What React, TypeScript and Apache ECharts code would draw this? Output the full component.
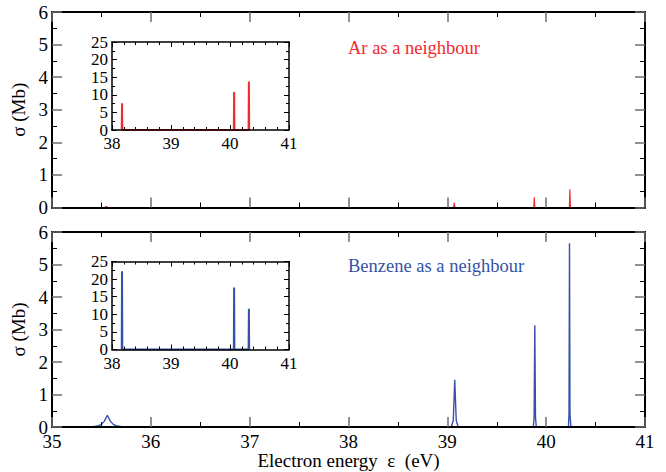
import React, { useEffect, useRef } from "react";
import * as echarts from "echarts";

// ---------- data ----------
const mainXTicks = [35, 36, 37, 38, 39, 40, 41];
const mainYTicks = [0, 1, 2, 3, 4, 5, 6];
const insetXTicks = [38, 39, 40, 41];
const insetYTicks = [0, 5, 10, 15, 20, 25];

// Ar as a neighbour (main panel) [energy eV, sigma Mb]
const arMain: [number, number][] = [
  [35.0, 0], [35.53, 0], [35.55, 0.03], [35.57, 0],
  [39.063, 0], [39.07, 0.14], [39.077, 0],
  [39.875, 0], [39.88, 0.31], [39.885, 0],
  [40.235, 0], [40.24, 0.56], [40.245, 0],
  [41.0, 0],
];

// Benzene as a neighbour (main panel)
const bzMain: [number, number][] = [
  [35.0, 0], [35.4, 0], [35.46, 0.03], [35.5, 0.08], [35.53, 0.18], [35.56, 0.36],
  [35.59, 0.18], [35.62, 0.08], [35.66, 0.03], [35.72, 0],
  [39.04, 0], [39.06, 0.2], [39.075, 1.45], [39.09, 0.2], [39.11, 0],
  [39.87, 0], [39.878, 0.3], [39.885, 3.13], [39.892, 0.3], [39.9, 0],
  [40.225, 0], [40.231, 0.4], [40.236, 5.65], [40.241, 0.4], [40.25, 0],
  [41.0, 0],
];

// insets (stick heights)
const arInset: [number, number][] = [
  [38.165, 0], [38.17, 7.6], [38.175, 0],
  [40.065, 0], [40.07, 10.8], [40.075, 0],
  [40.315, 0], [40.32, 13.8], [40.325, 0],
];
const bzInset: [number, number][] = [
  [38.165, 0], [38.17, 22.2], [38.175, 0],
  [40.065, 0], [40.07, 17.6], [40.075, 0],
  [40.315, 0], [40.32, 11.6], [40.325, 0],
];

const RED = "#f02a2e";
const BLUE = "#3552a8";
const FONT = "Liberation Serif";

function axisPair(
  gridIndex: number,
  ticks: number[],
  isX: boolean,
  showLabels: boolean,
  inset: boolean,
  name?: string
) {
  const min = ticks[0];
  const max = ticks[ticks.length - 1];
  const interval = ticks[1] - ticks[0];
  const common = {
    gridIndex,
    type: "value" as const,
    min,
    max,
    interval,
    z: 5,
    splitLine: { show: false },
    axisLine: { show: true, onZero: false, lineStyle: { color: "#000", width: inset ? 1.5 : 2 } },
    axisTick: {
      show: true,
      inside: true,
      length: inset ? 5 : 10,
      lineStyle: { color: inset ? "#000" : "#6e6e6e", width: inset ? 1 : 1.5 },
    },
    minorTick: {
      show: true,
      splitNumber: inset && isX ? 5 : 2,
      length: inset ? 3 : 5,
      lineStyle: { color: "#000", width: 1 },
    },
  };
  const primary: any = {
    ...common,
    position: isX ? "bottom" : "left",
    axisLabel: {
      show: showLabels,
      showMinLabel: true,
      showMaxLabel: true,
      hideOverlap: false,
      fontFamily: FONT,
      fontSize: inset ? 17 : 19,
      lineHeight: isX ? (inset ? 13 : 16) : inset ? 12 : 12,
      color: "#000",
      margin: isX ? (inset ? 7 : 6) : 4,
    },
  };
  if (name) {
    primary.name = name;
    primary.nameLocation = "middle";
    primary.nameGap = isX ? 18 : 17;
    primary.nameTextStyle = { fontFamily: FONT, fontSize: 19, color: "#000" };
  }
  const mirror: any = {
    ...common,
    position: isX ? "top" : "right",
    axisLabel: { show: false },
  };
  return [primary, mirror];
}

export default function App() {
  const ref = useRef<HTMLDivElement>(null);
  useEffect(() => {
    document.body.style.margin = "0";
    const chart = echarts.init(ref.current!, null, { renderer: "svg" });

    const grids = [
      { left: 52, top: 12, width: 593, height: 195.5 },
      { left: 52, top: 232, width: 593, height: 195 },
      { left: 112, top: 42, width: 177, height: 88 },
      { left: 112, top: 261.5, width: 177, height: 88 },
    ];

    const xAxes = [
      ...axisPair(0, mainXTicks, true, false, false),
      ...axisPair(1, mainXTicks, true, true, false, "Electron energy  ε  (eV)"),
      ...axisPair(2, insetXTicks, true, true, true),
      ...axisPair(3, insetXTicks, true, true, true),
    ];
    const yAxes = [
      ...axisPair(0, mainYTicks, false, true, false, "σ (Mb)"),
      ...axisPair(1, mainYTicks, false, true, false, "σ (Mb)"),
      ...axisPair(2, insetYTicks, false, true, true),
      ...axisPair(3, insetYTicks, false, true, true),
    ];

    const mk = (data: [number, number][], color: string, axisIdx: number, width: number) => ({
      type: "line",
      data,
      xAxisIndex: axisIdx,
      yAxisIndex: axisIdx,
      showSymbol: false,
      symbol: "none",
      lineStyle: { color, width },
      z: 1,
    });

    chart.setOption({
      animation: false,
      backgroundColor: "#fff",
      textStyle: { fontFamily: FONT },
      grid: grids.map((g) => ({ ...g, containLabel: false, show: false })),
      xAxis: xAxes,
      yAxis: yAxes,
      series: [
        mk(arMain, RED, 0, 1.2),
        mk(bzMain, BLUE, 2, 1.4),
        mk(arInset, RED, 4, 2),
        mk(bzInset, BLUE, 6, 2),
      ],
      graphic: [
        {
          type: "text",
          left: 348,
          top: 38,
          style: { text: "Ar as a neighbour", fontFamily: FONT, fontSize: 18.5, fill: RED },
        },
        {
          type: "text",
          left: 348,
          top: 256,
          style: { text: "Benzene as a neighbour", fontFamily: FONT, fontSize: 18.5, fill: BLUE },
        },
      ],
    });
    return () => chart.dispose();
  }, []);
  return <div ref={ref} style={{ width: 666, height: 472 }} />;
}
